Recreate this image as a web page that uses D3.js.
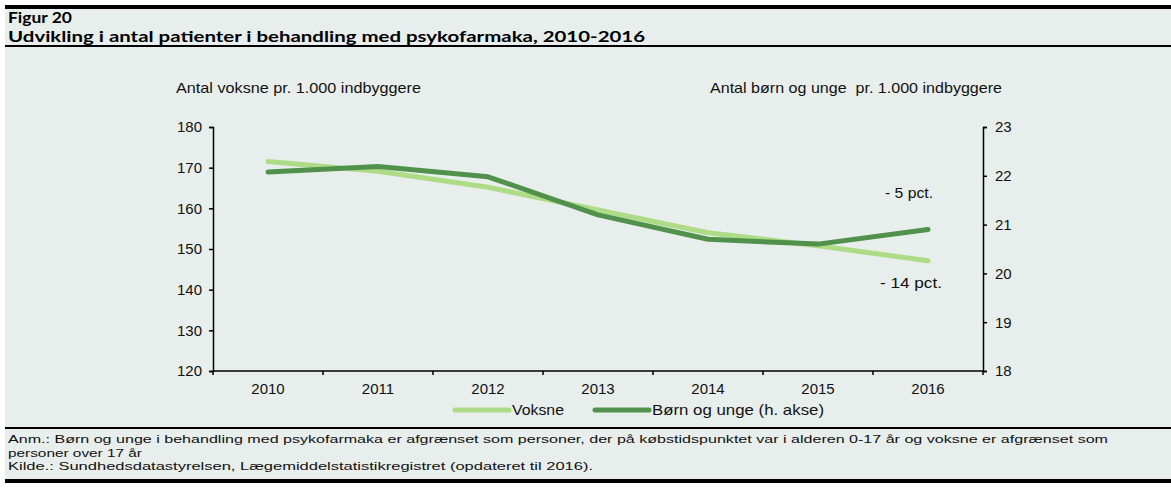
<!DOCTYPE html>
<html>
<head>
<meta charset="utf-8">
<script src="https://cdn.jsdelivr.net/npm/d3@7/dist/d3.min.js"></script>
<style>
  body { margin: 0; background: #fff; }
  svg { display: block; }
</style>
</head>
<body>
<div id="chart-container"></div>
<script>
var years = ["2010", "2011", "2012", "2013", "2014", "2015", "2016"];
var voksne = [171.5, 169.1, 165.2, 159.6, 154.0, 150.8, 147.1];
var boern = [22.08, 22.19, 21.98, 21.2, 20.7, 20.6, 20.9];
var left_ticks = [120, 130, 140, 150, 160, 170, 180];
var right_ticks = [18, 19, 20, 21, 22, 23];

var svg_width = 1171;
var svg_height = 495;
var bg = "#e8eeeb";
var light_green = "#addb86";
var dark_green = "#50914b";
var txt_font = "'Liberation Sans', Arial, sans-serif";
var title_font = "Lato, 'Open Sans', sans-serif";

var svg = d3.select("#chart-container")
  .append("svg")
  .attr("width", svg_width)
  .attr("height", svg_height);

// helper for text that is a bit wider than the font (the figure is stretched sideways)
function add_text(x, y, str, size, width, opts) {
  opts = opts || {};
  var t = svg.append("text")
    .attr("x", x).attr("y", y)
    .attr("font-family", opts.family || txt_font)
    .attr("font-size", size + "px")
    .attr("font-weight", opts.weight || "normal")
    .attr("fill", opts.fill || "#111")
    .attr("xml:space", "preserve")
    .text(str);
  if (width) t.attr("textLength", width).attr("lengthAdjust", "spacingAndGlyphs");
  return t;
}

// panel background
svg.append("rect")
  .attr("x", 5).attr("y", 5)
  .attr("width", svg_width - 5).attr("height", 478)
  .attr("fill", bg);

// top bar, title rule, footer rule, bottom bar
svg.append("rect").attr("x", 5).attr("y", 5).attr("width", svg_width - 5).attr("height", 4).attr("fill", "#000");
svg.append("rect").attr("x", 5).attr("y", 45).attr("width", svg_width - 5).attr("height", 2).attr("fill", "#000");
svg.append("rect").attr("x", 5).attr("y", 427).attr("width", svg_width - 5).attr("height", 2).attr("fill", "#000");
svg.append("rect").attr("x", 5).attr("y", 479).attr("width", svg_width - 5).attr("height", 4).attr("fill", "#000");

add_text(8, 23, "Figur 20", 16, 64, {family: title_font, weight: "bold", fill: "#000"});
add_text(8, 42, "Udvikling i antal patienter i behandling med psykofarmaka, 2010-2016", 16, 637,
  {family: title_font, weight: "bold", fill: "#000"});

var margin = {left: 213, right: 983, top: 127, bottom: 371};

var x = d3.scaleBand()
  .domain(years)
  .range([margin.left, margin.right]);

var y_left = d3.scaleLinear()
  .domain([120, 180])
  .range([margin.bottom, margin.top]);

var y_right = d3.scaleLinear()
  .domain([18, 23])
  .range([margin.bottom, margin.top]);

// axis titles
add_text(176, 93, "Antal voksne pr. 1.000 indbyggere", 15, 245);
add_text(710, 93, "Antal børn og unge  pr. 1.000 indbyggere", 15, 292);

// left axis
var gl = svg.append("g")
  .attr("transform", "translate(" + margin.left + ",0)")
  .call(d3.axisLeft(y_left).tickValues(left_ticks).tickSize(4).tickPadding(7));

// right axis
var gr = svg.append("g")
  .attr("transform", "translate(" + margin.right + ",0)")
  .call(d3.axisRight(y_right).tickValues(right_ticks).tickFormat(d3.format("d")).tickSize(4).tickPadding(8));

// x axis with ticks between categories
var gx = svg.append("g")
  .attr("transform", "translate(0," + margin.bottom + ")");
gx.append("line")
  .attr("x1", margin.left).attr("x2", margin.right)
  .attr("stroke", "#000").attr("stroke-width", 1.5);
var edges = years.map(function(d) { return x(d); }).concat([margin.right]);
gx.selectAll(".xtick")
  .data(edges)
  .enter()
  .append("line")
  .attr("class", "xtick")
  .attr("x1", function(d) { return d; }).attr("x2", function(d) { return d; })
  .attr("y1", 0).attr("y2", 4)
  .attr("stroke", "#000").attr("stroke-width", 1.5);
gx.selectAll(".xlabel")
  .data(years)
  .enter()
  .append("text")
  .attr("class", "xlabel")
  .attr("x", function(d) { return x(d) + x.bandwidth() / 2; })
  .attr("y", 23)
  .attr("text-anchor", "middle")
  .attr("font-family", txt_font).attr("font-size", "15px").attr("fill", "#111")
  .text(function(d) { return d; });

[gl, gr].forEach(function(g) {
  g.select(".domain").attr("stroke", "#000").attr("stroke-width", 1.5);
  g.selectAll(".tick line").attr("stroke", "#000").attr("stroke-width", 1.5);
  g.selectAll(".tick text")
    .attr("font-family", txt_font).attr("font-size", "15px").attr("fill", "#111");
});

var line_left = d3.line()
  .x(function(d, i) { return x(years[i]) + x.bandwidth() / 2; })
  .y(function(d) { return y_left(d); });
var line_right = d3.line()
  .x(function(d, i) { return x(years[i]) + x.bandwidth() / 2; })
  .y(function(d) { return y_right(d); });

svg.append("path")
  .datum(voksne)
  .attr("d", line_left)
  .attr("fill", "none")
  .attr("stroke", light_green)
  .attr("stroke-width", 5)
  .attr("stroke-linecap", "round")
  .attr("stroke-linejoin", "round");

svg.append("path")
  .datum(boern)
  .attr("d", line_right)
  .attr("fill", "none")
  .attr("stroke", dark_green)
  .attr("stroke-width", 5)
  .attr("stroke-linecap", "round")
  .attr("stroke-linejoin", "round");

// change labels
add_text(885, 198, "- 5 pct.", 15, 48);
add_text(880, 288, "- 14 pct.", 15, 62);

// legend
var legend = [
  {name: "Voksne", color: light_green, x: 455, w: 52},
  {name: "Børn og unge (h. akse)", color: dark_green, x: 595, w: 172}
];
var lg = svg.selectAll(".legend")
  .data(legend)
  .enter()
  .append("g")
  .attr("class", "legend")
  .attr("transform", function(d) { return "translate(" + d.x + ",410)"; });
lg.append("line")
  .attr("x1", 0).attr("x2", 54)
  .attr("stroke", function(d) { return d.color; })
  .attr("stroke-width", 5)
  .attr("stroke-linecap", "round");
lg.append("text")
  .attr("x", 57).attr("y", 5)
  .attr("font-family", txt_font).attr("font-size", "15px").attr("fill", "#111")
  .attr("textLength", function(d) { return d.w; })
  .attr("lengthAdjust", "spacingAndGlyphs")
  .text(function(d) { return d.name; });

// footer
var notes = [
  "Anm.: Børn og unge i behandling med psykofarmaka er afgrænset som personer, der på købstidspunktet var i alderen 0-17 år og voksne er afgrænset som",
  "personer over 17 år",
  "Kilde.: Sundhedsdatastyrelsen, Lægemiddelstatistikregistret (opdateret til 2016)."
];
var note_widths = [1100, 134, 585];
svg.selectAll(".note")
  .data(notes)
  .enter()
  .append("text")
  .attr("class", "note")
  .attr("x", 8)
  .attr("y", function(d, i) { return 443 + i * 13.5; })
  .attr("font-family", txt_font).attr("font-size", "11.5px").attr("fill", "#111")
  .attr("textLength", function(d, i) { return note_widths[i]; })
  .attr("lengthAdjust", "spacingAndGlyphs")
  .text(function(d) { return d; });
</script>
</body>
</html>
